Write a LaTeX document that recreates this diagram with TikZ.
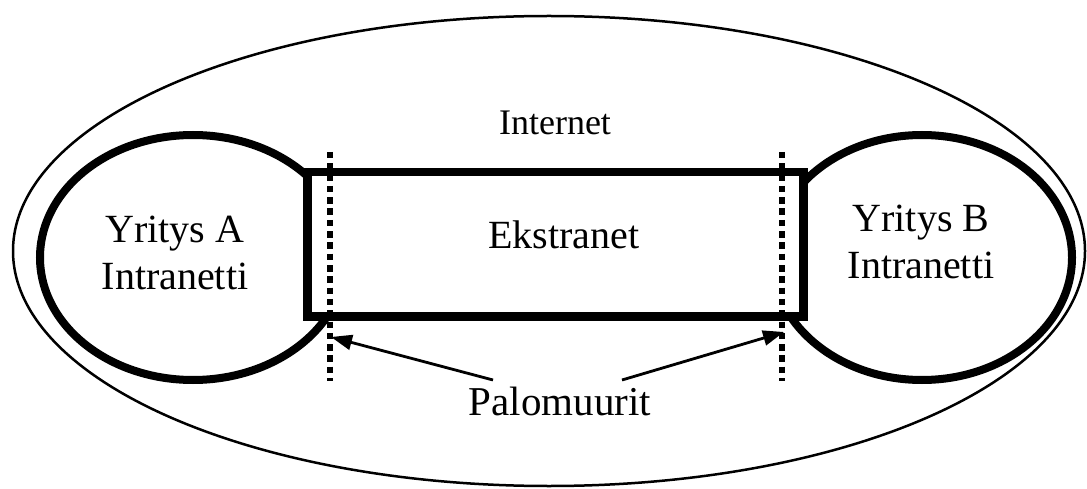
\documentclass[tikz,border=0pt]{standalone}
\usepackage{fontspec}
\setmainfont{Liberation Serif}
\usetikzlibrary{shapes.geometric,arrows.meta}
\begin{document}
\begin{tikzpicture}[x=1pt,y=-1pt,
  region/.style={ellipse,draw,inner sep=0pt,outer sep=0pt},
  netbox/.style={draw,fill=white,rectangle,inner sep=0pt,outer sep=0pt,line width=8.5pt},
  firewall/.style={line width=6pt,dash pattern=on 6.5pt off 4.8pt},
  pointer/.style={line width=2.8pt,-{Triangle[length=21pt,width=15pt]}},
  lbl/.style={inner sep=0pt,align=center}]
\useasboundingbox (0,0) rectangle (1087,489);

% the Internet around everything
\node[region,line width=2.5pt,minimum width=1072pt,minimum height=470pt] (internet) at (549,251) {};

% company intranets
\node[region,line width=8pt,minimum width=306pt,minimum height=245pt] (intraA) at (193,257.5) {};
\node[region,line width=8pt,minimum width=300pt,minimum height=245pt] (intraB) at (922,257.5) {};

% shared extranet between them
\node[netbox,minimum width=496pt,minimum height=144.5pt] (ekstra) at (555.5,244.25) {};

% firewalls
\coordinate (fwAtop) at (330,152);
\coordinate (fwAbot) at (330,381);
\coordinate (fwBtop) at (781.5,152);
\coordinate (fwBbot) at (781.5,381);
\draw[firewall] (fwAtop) -- (fwAbot);
\draw[firewall] (fwBtop) -- (fwBbot);

% labels
\node[lbl,anchor=base,font=\fontsize{36}{43}\selectfont] (tInternet) at (555,135) {Internet};
\node[lbl,anchor=base,font=\fontsize{40}{47}\selectfont] (tEkstra) at (564,248) {Ekstranet};
\node[lbl,font=\fontsize{40}{47}\selectfont] (tA) at (175,253) {Yritys A\\Intranetti};
\node[lbl,font=\fontsize{40}{47}\selectfont] (tB) at (921,242) {Yritys B\\Intranetti};
\node[lbl,anchor=base,font=\fontsize{41}{48}\selectfont] (tPalo) at (560,415) {Palomuurit};

% arrows from the firewall label
\coordinate (tailA) at (493,380);
\coordinate (tipA) at (331,337);
\coordinate (tailB) at (622,380);
\coordinate (tipB) at (784,332);
\draw[pointer] (tailA) -- (tipA);
\draw[pointer] (tailB) -- (tipB);
\end{tikzpicture}
\end{document}
